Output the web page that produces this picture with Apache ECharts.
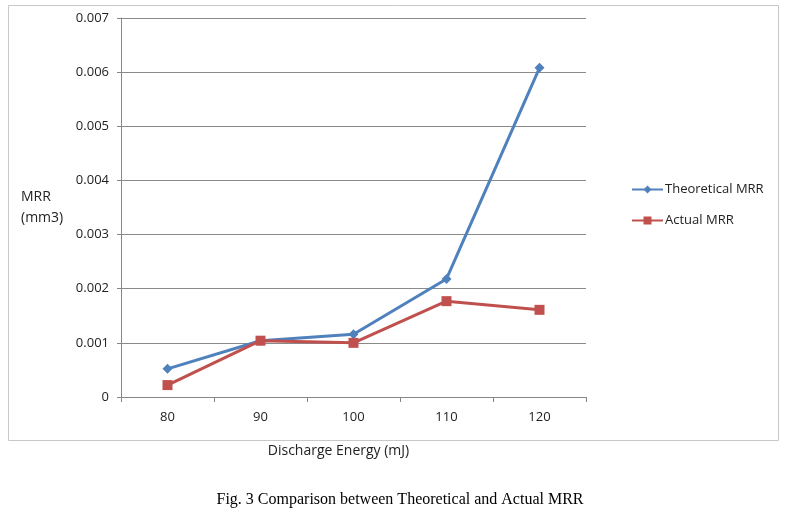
<!DOCTYPE html>
<html>
<head>
<meta charset="utf-8">
<script src="https://cdn.jsdelivr.net/npm/echarts@6/dist/echarts.min.js"></script>
<style>html,body{margin:0;padding:0;background:#fff;}#c{width:800px;height:512px;}</style>
</head>
<body>
<div id="c"></div>
<script>
var categories = ['80', '90', '100', '110', '120'];
var theoretical = [0.00052, 0.00104, 0.00116, 0.00218, 0.00608];
var actual = [0.00022, 0.00104, 0.00100, 0.00177, 0.00161];
var yTicks = [0, 0.001, 0.002, 0.003, 0.004, 0.005, 0.006, 0.007];

var chart = echarts.init(document.getElementById('c'));
var font = 'Open Sans, Noto Sans, sans-serif';
chart.setOption({
  animation: false,
  backgroundColor: '#fff',
  graphic: [
    {type: 'rect', shape: {x: 8.5, y: 5.5, width: 770, height: 435}, style: {fill: 'none', stroke: '#c8c8c8', lineWidth: 1}, z: -1},
    {type: 'text', left: 'center', top: 492, style: {text: 'Fig. 3 Comparison between Theoretical and Actual MRR', font: '16px "Liberation Serif", "Times New Roman", serif', fill: '#000'}}
  ],
  grid: {left: 121, right: 214, top: 18, bottom: 115, containLabel: false, outerBoundsMode: 'none'},
  legend: {
    orient: 'vertical', left: 626, top: 178, itemGap: 18, itemWidth: 31, itemHeight: 10,
    textStyle: {fontFamily: font, fontSize: 13, color: '#222', padding: [0, 0, 0, -3]},
    data: ['Theoretical MRR', 'Actual MRR']
  },
  xAxis: {
    type: 'category', data: categories, boundaryGap: true,
    name: 'Discharge Energy (mJ)', nameLocation: 'middle', nameGap: 47,
    nameTextStyle: {fontFamily: font, fontSize: 14, color: '#222', padding: [0, 30, 0, 0]},
    axisLine: {lineStyle: {color: '#868686', width: 1}},
    axisTick: {show: true, length: 5, lineStyle: {color: '#868686'}},
    axisLabel: {fontFamily: font, fontSize: 13, color: '#222', margin: 14}
  },
  yAxis: {
    type: 'value', min: 0, max: 0.007, interval: 0.001,
    name: 'MRR\n(mm3)', nameLocation: 'middle', nameRotate: 0, nameGap: 100,
    nameTextStyle: {fontFamily: font, fontSize: 14, color: '#222', align: 'left', lineHeight: 21},
    axisLine: {show: true, lineStyle: {color: '#868686', width: 1}},
    axisTick: {show: true, length: 4, lineStyle: {color: '#868686'}},
    axisLabel: {fontFamily: font, fontSize: 13, color: '#222', margin: 12,
      formatter: function (v) { return v === 0 ? '0' : v.toFixed(3); }},
    splitLine: {lineStyle: {color: '#8a8a8a', width: 1}}
  },
  series: [
    {name: 'Theoretical MRR', type: 'line', data: theoretical, symbol: 'diamond', symbolSize: 10,
      itemStyle: {color: '#4F81BD'}, lineStyle: {color: '#4F81BD', width: 3}},
    {name: 'Actual MRR', type: 'line', data: actual, symbol: 'rect', symbolSize: 10,
      itemStyle: {color: '#C0504D'}, lineStyle: {color: '#C0504D', width: 3}}
  ]
});
</script>
</body>
</html>
